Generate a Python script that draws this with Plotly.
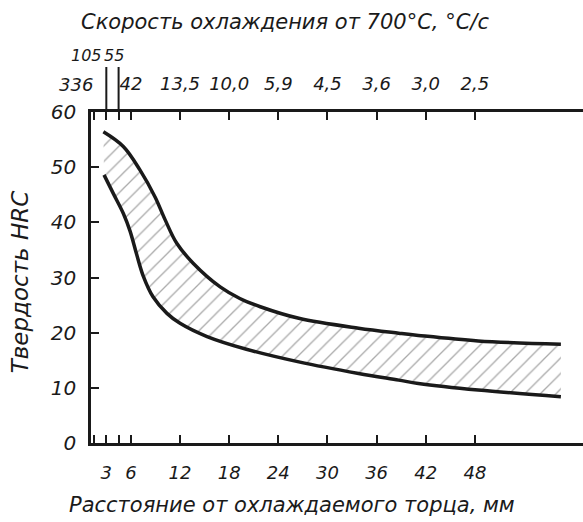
import plotly.graph_objects as go

# Jominy end-quench hardness band
dist_upper = [2.64, 5.1, 7.1, 8.95, 10.2, 11.6, 13.6, 16.9, 19.3, 21.8, 26.5, 33.8, 38.7, 41.1, 48.4, 58.5]
hrc_upper = [56.4, 53.7, 49.5, 44.6, 40.4, 36.2, 32.6, 28.3, 26.2, 24.7, 22.6, 20.8, 19.9, 19.5, 18.5, 17.9]

dist_lower = [2.72, 3.86, 5.08, 5.9, 6.7, 7.5, 8.7, 10.4, 12.0, 15.3, 20.1, 26.5, 33.8, 38.7, 41.1, 48.4, 58.5]
hrc_lower = [48.6, 45.2, 41.6, 38.4, 34.2, 30.3, 26.5, 23.5, 21.7, 19.3, 17.0, 14.7, 12.6, 11.4, 10.8, 9.6, 8.4]

# axes
x_ticks = [1.5, 3, 4.5, 6, 12, 18, 24, 30, 36, 42, 48]
x_labels = ['', '3', '', '6', '12', '18', '24', '30', '36', '42', '48']
rate_labels = ['', '', '', '42', '13,5', '10,0', '5,9', '4,5', '3,6', '3,0', '2,5']
long_ticks = [3, 4.5]
long_labels = ['105', '55']
first_rate = '336'
y_ticks = [0, 10, 20, 30, 40, 50, 60]

x_range = [1.13, 61.2]
ink = '#1a1a1a'
fnt = dict(family='DejaVu Sans', size=18, color=ink, style='italic')

fig = go.Figure()
fig.add_trace(go.Scatter(x=dist_lower, y=hrc_lower, mode='lines', line_shape='spline',
                         line=dict(color=ink, width=3.5), showlegend=False))
fig.add_trace(go.Scatter(x=dist_upper, y=hrc_upper, mode='lines', line_shape='spline',
                         line=dict(color=ink, width=3.5), fill='tonexty', fillcolor='white',
                         fillpattern=dict(shape='/', fgcolor='#555', bgcolor='white',
                                          size=11, solidity=0.12),
                         showlegend=False))

axis_style = dict(ticks='inside', ticklen=8, tickwidth=2, tickcolor=ink, showline=True,
                  linewidth=2.5, linecolor=ink, showgrid=False, zeroline=False,
                  automargin=False)

fig.update_layout(
    width=583, height=522,
    margin=dict(l=91, r=0, t=112, b=79),
    paper_bgcolor='white', plot_bgcolor='white',
    font=fnt,
    xaxis=dict(axis_style, range=x_range, tickvals=x_ticks, ticktext=x_labels,
               ticklabelstandoff=12),
    xaxis2=dict(axis_style, range=x_range, overlaying='x', side='top', tickvals=x_ticks,
                ticktext=rate_labels, ticklabelstandoff=12),
    yaxis=dict(axis_style, range=[0, 60], tickvals=y_ticks, ticklabelstandoff=8,
               tickfont=dict(fnt, size=20)),
)

# invisible trace so the top axis is drawn
fig.add_trace(go.Scatter(x=dist_upper, y=hrc_upper, xaxis='x2', mode='lines',
                         line=dict(width=0), opacity=0, showlegend=False, hoverinfo='skip'))

for xv in long_ticks:
    fig.add_shape(type='line', xref='x', yref='paper', x0=xv, x1=xv, y0=1, y1=1.136,
                  line=dict(color=ink, width=2))

mid = dict(showarrow=False, xanchor='center', yanchor='middle')
fig.add_annotation(x=long_ticks[0], y=1.172, xref='x', yref='paper', text=long_labels[0],
                   xshift=-20, font=dict(fnt, size=16), **mid)
fig.add_annotation(x=long_ticks[1], y=1.172, xref='x', yref='paper', text=long_labels[1],
                   xshift=-5, font=dict(fnt, size=16), **mid)
fig.add_annotation(x=x_ticks[0], y=1.082, xref='x', yref='paper', text=first_rate,
                   xshift=-18, font=fnt, **mid)

fig.add_annotation(x=0.394, y=1.272, xref='paper', yref='paper',
                   text='Скорость охлаждения от 700°С, °С/с', font=dict(fnt, size=21), **mid)
fig.add_annotation(x=0.409, y=-0.187, xref='paper', yref='paper',
                   text='Расстояние от охлаждаемого торца, мм', font=dict(fnt, size=21), **mid)
fig.add_annotation(x=-0.144, y=0.486, xref='paper', yref='paper', text='Твердость HRC',
                   textangle=-90, font=dict(fnt, size=23), **mid)

fig.write_html('out.html', config={'displayModeBar': False},
               post_script="document.body.style.margin='0';")
